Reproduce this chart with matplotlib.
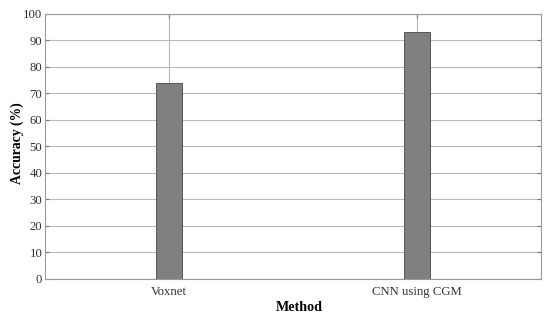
import matplotlib
matplotlib.use("Agg")
import matplotlib.pyplot as plt

methods = ["Voxnet", "CNN using CGM"]
accuracy = [74, 93]
yticks = list(range(0, 101, 10))

plt.rcParams['font.family'] = ['Liberation Serif', 'DejaVu Serif']

fig = plt.figure(figsize=(5.5, 3.21), dpi=100)
ax = fig.add_axes([0.0818, 0.131, 0.9018, 0.8256])

pos = list(range(1, len(methods) + 1))
ax.bar(pos, accuracy, width=0.105, color="#808080", edgecolor="#555555", linewidth=0.7, zorder=3)

ax.set_xlim(0.5, len(methods) + 0.5)
ax.set_ylim(0, 100)
ax.set_xticks(pos)
ax.set_xticklabels(methods)
ax.set_yticks(yticks)
ax.grid(True, color="#b8b8b8", linewidth=0.8, zorder=0)
ax.set_axisbelow(True)

ax.tick_params(axis='both', labelsize=9.2, direction='in', length=3, color="#777777",
               labelcolor="#333333", top=True, right=True, pad=2)
ax.tick_params(axis='x', pad=5)
for s in ax.spines.values():
    s.set_color("#999999")
    s.set_linewidth(0.8)

ax.set_xlabel("Method", fontsize=10.2, fontweight='bold')
ax.xaxis.set_label_coords(0.512, -0.085)
ax.set_ylabel("Accuracy (%)", fontsize=9.8, fontweight='bold')
ax.yaxis.set_label_coords(-0.042, 0.513)

fig.savefig("out.png", dpi=100)
